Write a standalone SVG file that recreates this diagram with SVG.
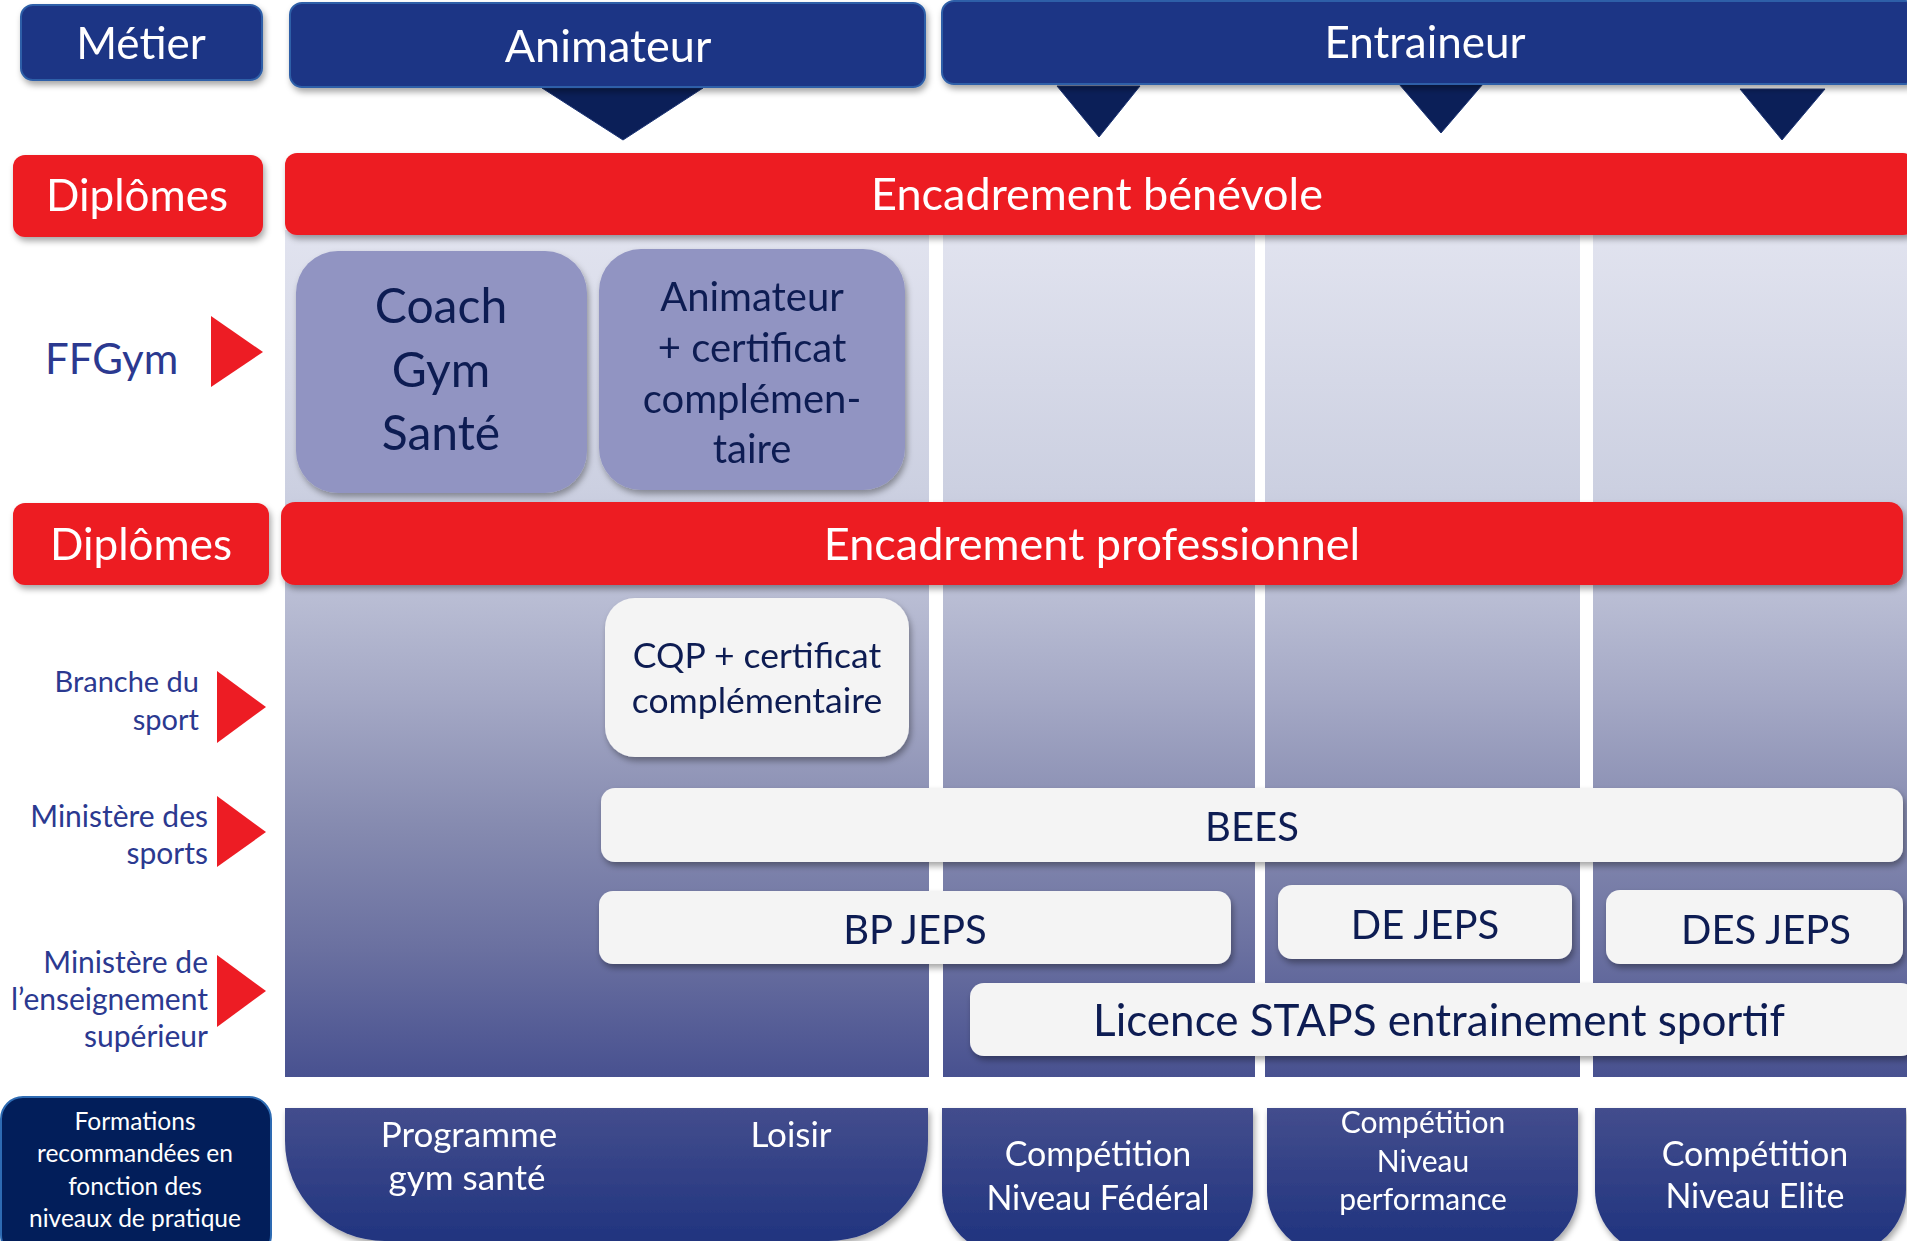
<svg xmlns="http://www.w3.org/2000/svg" width="1907" height="1241" viewBox="0 0 1907 1241">
<defs>
<style>
text{font-family:Lato,"Open Sans","Liberation Sans",sans-serif}
.w{fill:#ffffff}
.hd{fill:#1f3585;stroke:#2d5fa8;stroke-width:2}
.red{fill:#ed1c24}
.lav{fill:#9194c2}
.pale{fill:#f4f4f4}
.nav{fill:#0e1d52}
.lbl{fill:#2b3990;text-anchor:end}
.tri{fill:#0b1f58;stroke:#1d3575;stroke-width:1}
.arr{fill:#ed1c24}
.c{text-anchor:middle}
</style>
<filter id="sh" x="-10%" y="-20%" width="120%" height="150%">
<feDropShadow dx="2" dy="4" stdDeviation="3" flood-color="#000" flood-opacity="0.35"/>
</filter>
<linearGradient id="bg" gradientUnits="userSpaceOnUse" x1="0" y1="235" x2="0" y2="1077">
<stop offset="0" stop-color="#e1e3ef"/>
<stop offset="0.3" stop-color="#ccd0e1"/>
<stop offset="0.42" stop-color="#bbbfd5"/>
<stop offset="0.55" stop-color="#a4a8c5"/>
<stop offset="0.7" stop-color="#868bb0"/>
<stop offset="0.85" stop-color="#6a70a0"/>
<stop offset="1" stop-color="#485190"/>
</linearGradient>
<linearGradient id="pill" gradientUnits="userSpaceOnUse" x1="0" y1="1108" x2="0" y2="1241">
<stop offset="0" stop-color="#434d8d"/>
<stop offset="1" stop-color="#21347f"/>
</linearGradient>
</defs>
<rect width="1907" height="1241" fill="#ffffff"/>

<g id="columns">
<rect x="285" y="230" width="644" height="847" fill="url(#bg)"/>
<rect x="943" y="230" width="312" height="847" fill="url(#bg)"/>
<rect x="1265" y="230" width="315" height="847" fill="url(#bg)"/>
<rect x="1593" y="230" width="314" height="847" fill="url(#bg)"/>
</g>

<g id="connectors">
<polygon class="tri" points="542,88 703,88 623,140"/>
<polygon class="tri" points="1057,86 1140,86 1099,137"/>
<polygon class="tri" points="1399,84 1483,84 1441,133"/>
<polygon class="tri" points="1740,89 1825,89 1782,140"/>
</g>

<g id="metier" filter="url(#sh)">
<rect class="hd" x="21" y="5" width="241" height="75" rx="12"/>
<text class="w c" x="141" y="59" font-size="44">Métier</text>
</g>
<g id="animateur" filter="url(#sh)">
<rect class="hd" x="290" y="3" width="635" height="84" rx="12"/>
<text class="w c" x="608" y="62" font-size="45">Animateur</text>
</g>
<g id="entraineur" filter="url(#sh)">
<rect class="hd" x="942" y="1" width="975" height="83" rx="12"/>
<text class="w c" x="1425" y="58" font-size="44">Entraineur</text>
</g>

<g id="diplomes1" filter="url(#sh)">
<rect class="red" x="13" y="155" width="250" height="82" rx="12"/>
<text class="w c" x="137" y="211" font-size="44">Diplômes</text>
</g>
<g id="benevole" filter="url(#sh)">
<rect class="red" x="285" y="153" width="1630" height="82" rx="12"/>
<text class="w c" x="1097" y="210" font-size="45">Encadrement bénévole</text>
</g>

<g id="ffgym">
<text x="45" y="374" font-size="42" fill="#2b3990">FFGym</text>
<polygon class="arr" points="211,316 263,352 211,387"/>
</g>
<g id="coach" filter="url(#sh)">
<rect class="lav" x="296" y="251" width="291" height="242" rx="42"/>
<text class="nav c" x="441" y="323" font-size="48">Coach</text>
<text class="nav c" x="441" y="387" font-size="48">Gym</text>
<text class="nav c" x="441" y="450" font-size="48">Santé</text>
</g>
<g id="animcert" filter="url(#sh)">
<rect class="lav" x="599" y="249" width="306" height="241" rx="42"/>
<text class="nav c" x="752" y="311" font-size="40">Animateur</text>
<text class="nav c" x="752" y="362" font-size="40">+ certificat</text>
<text class="nav c" x="752" y="413" font-size="40">complémen-</text>
<text class="nav c" x="752" y="463" font-size="40">taire</text>
</g>

<g id="diplomes2" filter="url(#sh)">
<rect class="red" x="13" y="503" width="256" height="82" rx="12"/>
<text class="w c" x="141" y="560" font-size="44">Diplômes</text>
</g>
<g id="professionnel" filter="url(#sh)">
<rect class="red" x="281" y="502" width="1622" height="83" rx="14"/>
<text class="w c" x="1092" y="560" font-size="45">Encadrement professionnel</text>
</g>

<g id="branche">
<text class="lbl" x="199" y="692" font-size="29">Branche du</text>
<text class="lbl" x="199" y="730" font-size="29">sport</text>
<polygon class="arr" points="217,671 266,707 217,743"/>
</g>
<g id="ministere-sports">
<text class="lbl" x="208" y="827" font-size="30">Ministère des</text>
<text class="lbl" x="208" y="864" font-size="30">sports</text>
<polygon class="arr" points="217,796 266,832 217,867"/>
</g>
<g id="ministere-ens">
<text class="lbl" x="208" y="973" font-size="30">Ministère de</text>
<text class="lbl" x="208" y="1010" font-size="30">l’enseignement</text>
<text class="lbl" x="208" y="1047" font-size="30">supérieur</text>
<polygon class="arr" points="217,955 266,991 217,1027"/>
</g>

<g id="cqp" filter="url(#sh)">
<rect class="pale" x="605" y="598" width="304" height="159" rx="30"/>
<text class="nav c" x="757" y="668" font-size="35.5">CQP + certificat</text>
<text class="nav c" x="757" y="713" font-size="35.5">complémentaire</text>
</g>
<g id="bees" filter="url(#sh)">
<rect class="pale" x="601" y="788" width="1302" height="74" rx="14"/>
<text class="nav c" x="1252" y="841" font-size="40">BEES</text>
</g>
<g id="bpjeps" filter="url(#sh)">
<rect class="pale" x="599" y="891" width="632" height="73" rx="14"/>
<text class="nav c" x="915" y="944" font-size="40">BP JEPS</text>
</g>
<g id="dejeps" filter="url(#sh)">
<rect class="pale" x="1278" y="885" width="294" height="74" rx="14"/>
<text class="nav c" x="1425" y="939" font-size="40">DE JEPS</text>
</g>
<g id="desjeps" filter="url(#sh)">
<rect class="pale" x="1606" y="890" width="297" height="74" rx="14"/>
<text class="nav c" x="1766" y="944" font-size="40">DES JEPS</text>
</g>
<g id="licence" filter="url(#sh)">
<rect class="pale" x="970" y="983" width="945" height="73" rx="14"/>
<text class="nav c" x="1439" y="1036" font-size="44">Licence STAPS entrainement sportif</text>
</g>

<g id="formations">
<rect x="1" y="1097" width="270" height="160" rx="22" fill="#021e5a" stroke="#2e6bb3" stroke-width="2"/>
<text class="w c" x="135" y="1130" font-size="24.5">Formations</text>
<text class="w c" x="135" y="1162" font-size="24.5">recommandées en</text>
<text class="w c" x="135" y="1195" font-size="24.5">fonction des</text>
<text class="w c" x="135" y="1227" font-size="24.5">niveaux de pratique</text>
</g>
<g id="niveau-animateur" filter="url(#sh)">
<path d="M285,1108 H928 V1141 A100,100 0 0 1 828,1241 H385 A100,100 0 0 1 285,1141 Z" fill="url(#pill)"/>
<text class="w c" x="469" y="1147" font-size="35">Programme</text>
<text class="w c" x="467" y="1190" font-size="35">gym santé</text>
<text class="w c" x="791" y="1147" font-size="35">Loisir</text>
</g>
<g id="niveau-federal" filter="url(#sh)">
<path d="M942,1108 H1253 V1190 A65,65 0 0 1 1188,1255 H1007 A65,65 0 0 1 942,1190 Z" fill="url(#pill)"/>
<text class="w c" x="1098" y="1166" font-size="34">Compétition</text>
<text class="w c" x="1098" y="1210" font-size="34">Niveau Fédéral</text>
</g>
<g id="niveau-performance" filter="url(#sh)">
<path d="M1267,1108 H1578 V1190 A65,65 0 0 1 1513,1255 H1332 A65,65 0 0 1 1267,1190 Z" fill="url(#pill)"/>
<text class="w c" x="1423" y="1133" font-size="30">Compétition</text>
<text class="w c" x="1423" y="1172" font-size="30">Niveau</text>
<text class="w c" x="1423" y="1210" font-size="30">performance</text>
</g>
<g id="niveau-elite" filter="url(#sh)">
<path d="M1595,1108 H1906 V1190 A65,65 0 0 1 1841,1255 H1660 A65,65 0 0 1 1595,1190 Z" fill="url(#pill)"/>
<text class="w c" x="1755" y="1166" font-size="34">Compétition</text>
<text class="w c" x="1755" y="1208" font-size="34">Niveau Elite</text>
</g>
</svg>
